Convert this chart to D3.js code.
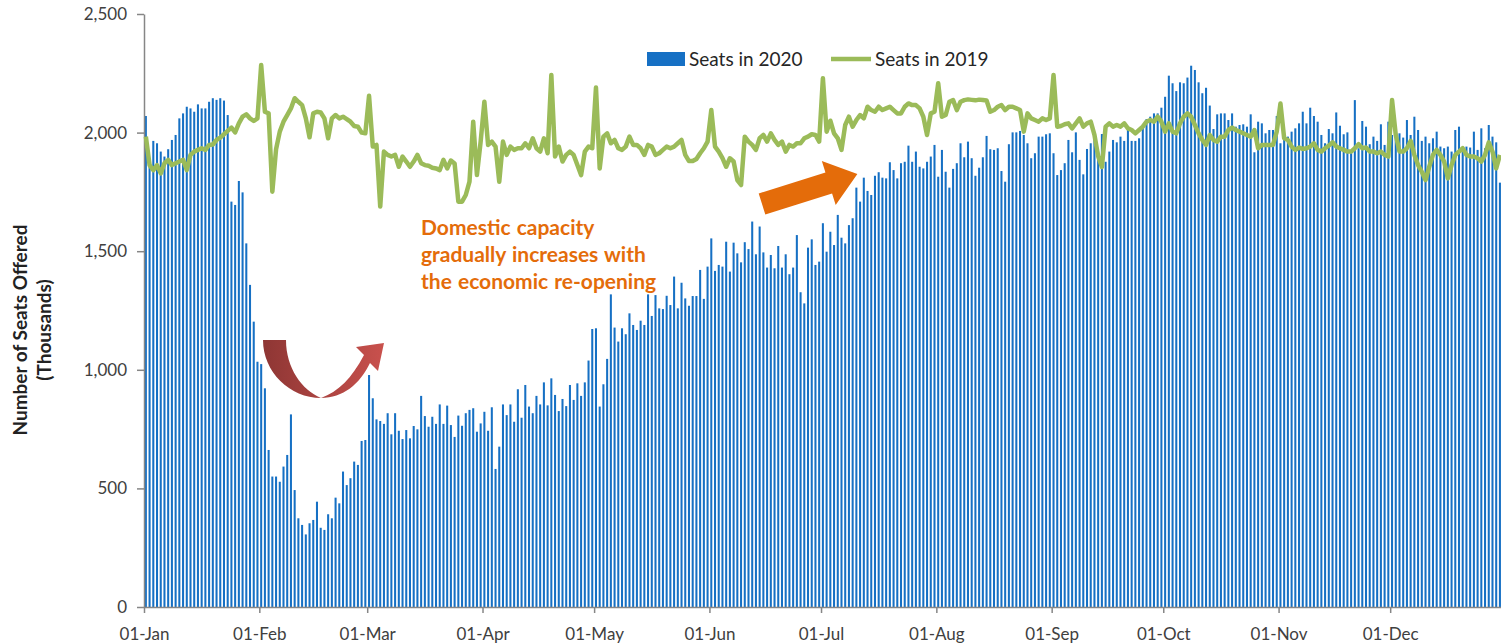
<!DOCTYPE html>
<meta charset="utf-8">
<title>Seats Offered 2020 vs 2019</title>
<style>
  body { margin: 0; background: #fff; }
  svg { display: block; font-family: Lato, "Open Sans", sans-serif; }
</style>
<div id="viz"></div>
<script src="https://cdnjs.cloudflare.com/ajax/libs/d3/7.8.5/d3.min.js"></script>
<script>

var monthLabels = ["01-Jan", "01-Feb", "01-Mar", "01-Apr", "01-May", "01-Jun",
                   "01-Jul", "01-Aug", "01-Sep", "01-Oct", "01-Nov", "01-Dec"];
var monthStarts = [0, 31, 60, 91, 121, 152, 182, 213, 244, 274, 305, 335];
var yTicks = [0, 500, 1000, 1500, 2000, 2500];

// daily seats 2020 (thousands), one row per month
var seats2020 = [
  2070,1880,1965,1955,1920,1899,1930,1969,1990,2060,2081,2109,2102,2088,2119,2102,2102,2130,2145,2138,2145,2135,2074,1709,1695,1796,1748,1533,1358,1203,1034,
  1024,922,662,550,550,528,592,641,812,493,374,346,306,353,367,444,334,325,391,374,461,437,571,514,543,613,599,700,704,
  978,880,791,784,772,817,728,817,743,708,746,711,763,749,890,805,760,802,772,854,772,849,767,717,807,764,817,831,838,739,774,
  823,743,842,582,676,854,809,854,781,918,798,936,845,817,890,854,947,850,964,894,826,877,847,936,873,943,890,947,1039,1172,
  1175,845,939,1046,1318,1178,1119,1175,1150,1238,1189,1168,1207,1189,1318,1227,1315,1259,1256,1312,1273,1393,1259,1367,1301,1270,1311,1311,1421,1299,1435,
  1554,1417,1442,1435,1540,1414,1536,1491,1453,1538,1509,1625,1487,1604,1495,1431,1484,1428,1522,1431,1487,1403,1431,1568,1327,1280,1515,1550,1442,1456,
  1618,1498,1582,1526,1653,1557,1533,1610,1639,1768,1709,1810,1754,1737,1818,1833,1810,1807,1875,1842,1807,1871,1877,1945,1877,1920,1856,1849,1877,1899,1948,
  1814,1927,1835,1768,1847,1871,1955,1896,1962,1892,1818,1852,1896,1986,1930,1927,1934,1838,1793,1951,2001,2001,2007,1990,1955,1892,1913,1983,1983,1993,1997,
  1913,1821,1842,1871,1969,1917,2001,1885,1824,1931,1955,1979,1920,1994,1877,1920,1969,1959,1983,1965,2011,1965,1965,1976,2025,2057,2067,2081,2081,2105,
  2151,2240,2208,2175,2212,2208,2232,2282,2264,2212,2166,2189,2114,2015,2077,2081,2081,2053,2081,2025,2032,2035,2025,2077,1917,2046,2039,1997,2011,2011,2070,
  1955,1976,1983,2004,2018,2039,2088,2039,2105,2070,2046,1990,1955,2015,1997,2085,2029,1993,2001,1913,2137,1934,2049,2025,1951,1983,1965,2035,1948,2046,
  1990,2011,1997,1979,2053,1990,2067,2011,1965,1983,1955,1976,2004,1941,1934,1941,1920,2011,2025,1927,1941,1937,2004,1927,2018,1934,2032,1983,1959,1789,1927
];

// daily seats 2019 (thousands), same day index
var seats2019 = [
  1983,1863,1842,1863,1828,1871,1885,1863,1871,1878,1885,1842,1906,1920,1927,1934,1927,1948,1950,1969,1979,1993,2007,2021,2001,2039,2067,2077,2060,2049,2060,
  2285,2088,2081,1751,1930,2004,2046,2074,2102,2145,2130,2116,2060,1980,2081,2088,2085,2060,1976,2060,2074,2060,2067,2057,2046,2028,2025,2000,1997,2155,
  1941,1948,1688,1920,1906,1899,1906,1856,1899,1878,1856,1878,1906,1871,1863,1860,1852,1849,1842,1885,1849,1882,1870,1709,1709,1737,1793,2046,1821,1962,
  2130,1948,1962,1941,1793,1962,1906,1941,1927,1934,1934,1955,1934,1976,1934,1920,1976,1913,2243,1899,1941,1878,1906,1920,1906,1863,1821,1920,1941,1934,2190,
  1849,1983,1997,1955,1969,1934,1927,1941,1983,1948,1948,1934,1906,1948,1941,1906,1913,1927,1941,1934,1941,1955,1969,1906,1880,1880,1889,1913,1934,1962,
  2095,1941,1920,1892,1856,1892,1878,1800,1779,1983,1962,1948,1927,1976,1990,1962,1997,1969,1948,1962,1920,1948,1941,1955,1955,1976,1983,1993,1990,1962,2229,
  2004,2050,1997,1976,1927,2032,2067,2025,2053,2074,2060,2109,2095,2088,2109,2095,2102,2109,2095,2081,2081,2109,2123,2116,2116,2102,2067,1990,2081,2088,
  2208,2067,2074,2130,2137,2095,2130,2137,2140,2138,2136,2139,2137,2135,2088,2095,2109,2116,2095,2109,2109,2102,2095,2004,2081,2060,2053,2046,2060,2053,2060,
  2243,2025,2028,2035,2039,2018,2039,2060,2025,2039,2046,1990,1900,1855,2025,2039,2025,2032,2025,2039,2018,2011,1997,2011,2025,2046,2053,2046,2067,2046,
  2004,2039,2004,1997,2039,2067,2081,2067,2032,1997,1969,1948,1990,1969,1962,1983,1983,2011,2021,2011,2004,1997,1990,1983,2011,1934,1948,1948,1948,1948,
  2004,2123,1976,1969,1941,1927,1937,1931,1934,1941,1955,1927,1920,1934,1945,1959,1941,1934,1927,1920,1920,1934,1951,1934,1937,1920,1920,1913,1920,1906,
  1899,2137,1990,1920,1920,1934,1965,1906,1863,1835,1800,1856,1906,1927,1906,1878,1807,1863,1906,1920,1934,1906,1899,1899,1892,1878,1906,1959,1920,1849,1906
];

var width = 1501;
var height = 644;
var plotLeft = 144, plotRight = 1505.5, plotTop = 14, plotBottom = 607;

var blue = "#1670c4";
var green = "#9bbb59";
var orange = "#e46c0a";
var axisGray = "#868686";
var textGray = "#404040";

var svg = d3.select("#viz")
  .append("svg")
  .attr("width", width)
  .attr("height", height);

var defs = svg.append("defs");
var grad = defs.append("linearGradient")
  .attr("id", "redGrad")
  .attr("x1", "0%").attr("x2", "100%")
  .attr("y1", "0%").attr("y2", "0%");
grad.append("stop").attr("offset", "0%").attr("stop-color", "#8e3634");
grad.append("stop").attr("offset", "100%").attr("stop-color", "#c9514d");

// scales
var days = d3.range(seats2020.length);
var x = d3.scaleBand()
  .domain(days)
  .range([plotLeft, plotRight])
  .paddingInner(0.45)
  .paddingOuter(0.225);
var dayScale = d3.scaleLinear()
  .domain([0, 366])
  .range([plotLeft, plotRight]);
var y = d3.scaleLinear()
  .domain([0, 2500])
  .range([plotBottom, plotTop]);

// bars for 2020
svg.append("g")
  .selectAll("rect")
  .data(seats2020)
  .enter().append("rect")
  .attr("x", function(d, i) { return x(i); })
  .attr("y", function(d) { return y(d); })
  .attr("width", x.bandwidth())
  .attr("height", function(d) { return y(0) - y(d); })
  .attr("fill", blue);

// y axis
var yAxis = svg.append("g")
  .attr("transform", "translate(" + plotLeft + ",0)")
  .call(d3.axisLeft(y)
    .tickValues(yTicks)
    .tickFormat(d3.format(","))
    .tickSizeInner(7)
    .tickSizeOuter(0)
    .tickPadding(10));

// x axis
var xAxis = svg.append("g")
  .attr("transform", "translate(0," + plotBottom + ")")
  .call(d3.axisBottom(dayScale)
    .tickValues(monthStarts)
    .tickFormat(function(d, i) { return monthLabels[i]; })
    .tickSizeInner(6)
    .tickSizeOuter(0)
    .tickPadding(15));

[yAxis, xAxis].forEach(function(ax) {
  ax.select(".domain").attr("stroke", axisGray).attr("stroke-width", 1.5);
  ax.selectAll(".tick line").attr("stroke", axisGray).attr("stroke-width", 1.5);
  ax.selectAll(".tick text")
    .attr("fill", textGray)
    .style("font-size", "17px")
    .style("font-family", "Lato, 'Open Sans', sans-serif");
});

// 2019 line
var line = d3.line()
  .x(function(d, i) { return dayScale(i + 0.5); })
  .y(function(d) { return y(d); });

svg.append("path")
  .datum(seats2019)
  .attr("d", line)
  .attr("fill", "none")
  .attr("stroke", green)
  .attr("stroke-width", 4.5)
  .attr("stroke-linejoin", "round");

// y axis title
var yTitle = ["Number of Seats Offered", "(Thousands)"];
svg.selectAll("text.ytitle")
  .data(yTitle)
  .enter().append("text")
  .attr("class", "ytitle")
  .attr("transform", function(d, i) { return "translate(" + (27 + i * 24) + ",330) rotate(-90)"; })
  .attr("text-anchor", "middle")
  .attr("fill", "#222")
  .style("font-size", "19px")
  .style("font-weight", "bold")
  .text(function(d) { return d; });

// legend
var legend = svg.append("g");
legend.append("rect")
  .attr("x", 647).attr("y", 52)
  .attr("width", 38).attr("height", 14)
  .attr("fill", blue);
legend.append("text")
  .attr("x", 689).attr("y", 66)
  .attr("fill", "#262626")
  .style("font-size", "19px")
  .text("Seats in 2020");
legend.append("line")
  .attr("x1", 831).attr("x2", 871)
  .attr("y1", 59).attr("y2", 59)
  .attr("stroke", green)
  .attr("stroke-width", 4.5);
legend.append("text")
  .attr("x", 875).attr("y", 66)
  .attr("fill", "#262626")
  .style("font-size", "19px")
  .text("Seats in 2019");

// annotation text
var noteLines = ["Domestic capacity", "gradually increases with", "the economic re-opening"];
svg.selectAll("text.note")
  .data(noteLines)
  .enter().append("text")
  .attr("class", "note")
  .attr("x", 421)
  .attr("y", function(d, i) { return 235 + i * 27; })
  .attr("fill", orange)
  .style("font-size", "21px")
  .style("font-weight", "bold")
  .style("word-spacing", "1px")
  .text(function(d) { return d; });

// orange arrow
svg.append("path")
  .attr("d", "M0,-11 L70,-11 L70,-23 L100,0 L70,23 L70,11 L0,11 Z")
  .attr("transform", "translate(762,204) rotate(-17.5)")
  .attr("fill", orange);

// red U-turn arrow
svg.append("path")
  .attr("d", "M263,340 C263,372 290,398 321,398 C343,398 360,384 370,363 " +
             "L378,371 L384,343 L356,347 L364,355 " +
             "C352,378 338,392 321,398 C302,390 286,368 286,340 Z")
  .attr("fill", "url(#redGrad)");

</script>
